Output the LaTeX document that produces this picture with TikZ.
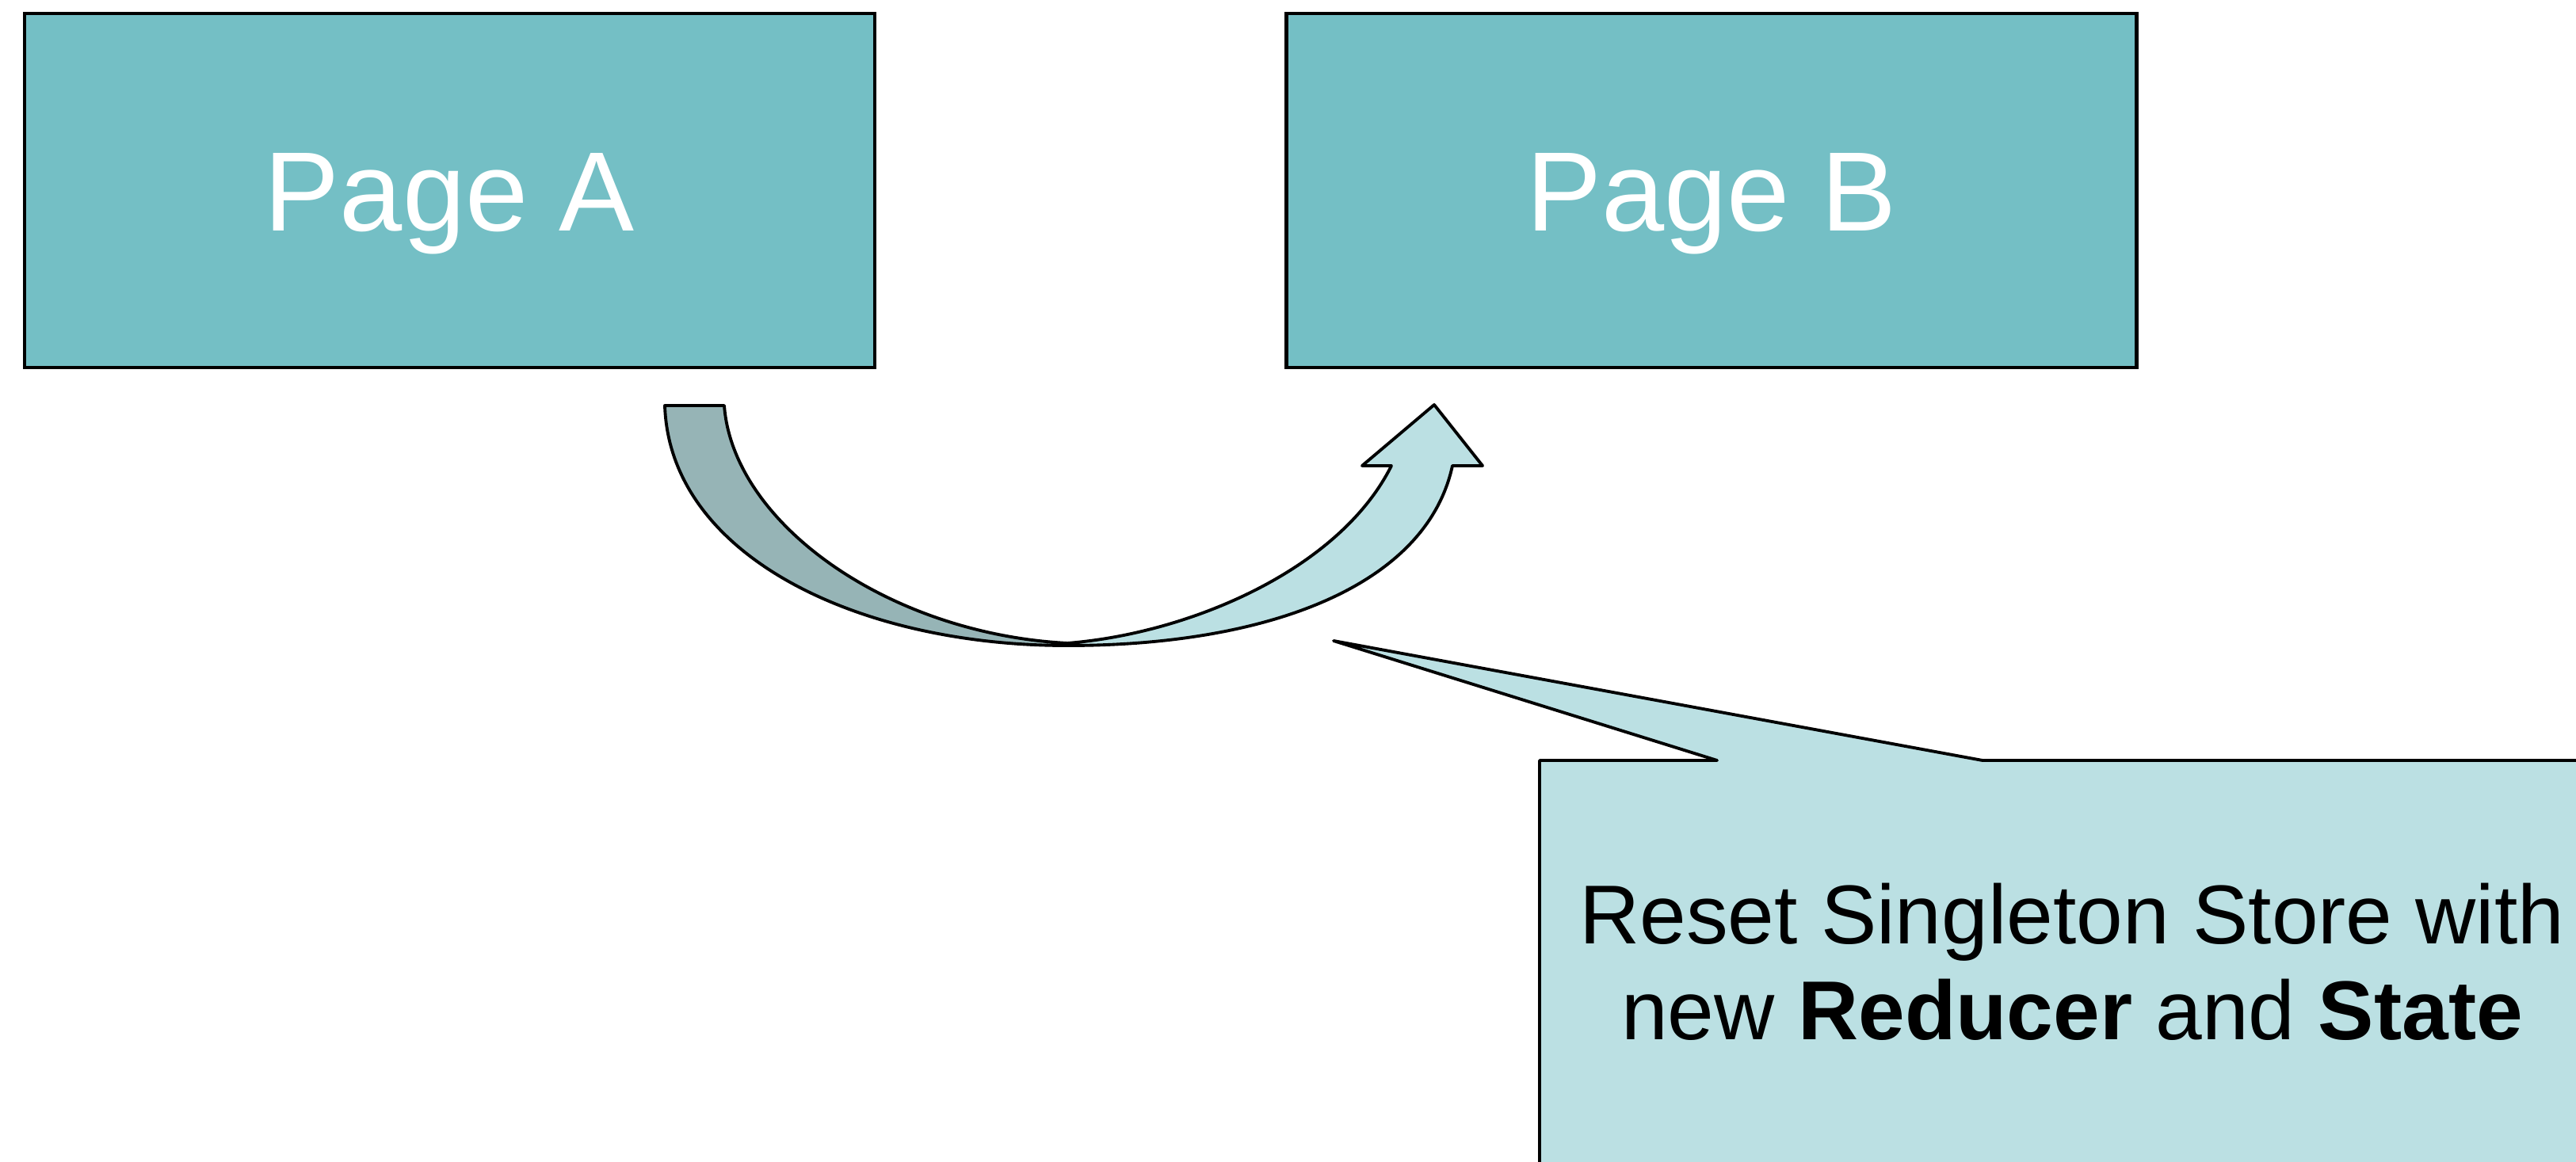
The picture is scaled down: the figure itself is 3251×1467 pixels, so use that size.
\documentclass[tikz,border=0pt]{standalone}
\usepackage{fontspec}
\setmainfont{Liberation Sans}
\usepackage{tikz}
\usetikzlibrary{positioning}
\definecolor{PageTeal}{HTML}{74BFC5}
\definecolor{NoteCyan}{HTML}{BBE0E3}
\definecolor{BackTeal}{HTML}{96B4B6}

\begin{document}
\begin{tikzpicture}[x=0.01cm,y=-0.01cm,
    pagebox/.style={draw=black,line width=1.3pt,fill=PageTeal,text=white,
      minimum width=10.72cm,minimum height=4.47cm,inner sep=0pt,
      text height=29pt,text depth=0pt,
      font=\fontsize{40.5pt}{48pt}\selectfont},
    bandline/.style={draw=black,line width=1.1pt,line join=round}]
        \useasboundingbox (0,0) rectangle (3251,1467);
        \clip (0,0) rectangle (3251,1467);
        \node[pagebox] (pageA) at (567.5,240.5) {Page A};
        \node[pagebox,right=5.15cm of pageA] (pageB) {Page B};
        % curved arrow: back side, then front side with head
        \draw[bandline,fill=BackTeal] (839,512) -- (914,512)
          .. controls (925,660) and (1120,800) .. (1347,812) -- (1347,815)
          .. controls (1080,815) and (845,700) .. (839,512) -- cycle;
        \draw[bandline,fill=NoteCyan] (1347,812)
          .. controls (1500,800) and (1690,720) .. (1756,588)
          -- (1719,588) -- (1810,511) -- (1871,588) -- (1833,588)
          .. controls (1800,740) and (1600,815) .. (1347,815) -- cycle;
        % callout
        \draw[bandline,fill=NoteCyan] (1943,1520) -- (1943,960) -- (2167,960)
          -- (1683,809) -- (2502,960) -- (3320,960) -- (3320,1520) -- cycle;
        \node[inner sep=0pt,align=center,font=\fontsize{30pt}{34.3pt}\selectfont] (note)
          at (2615,1214) {Reset Singleton Store with\\new \textbf{Reducer} and \textbf{State}};
      \end{tikzpicture}
\end{document}
